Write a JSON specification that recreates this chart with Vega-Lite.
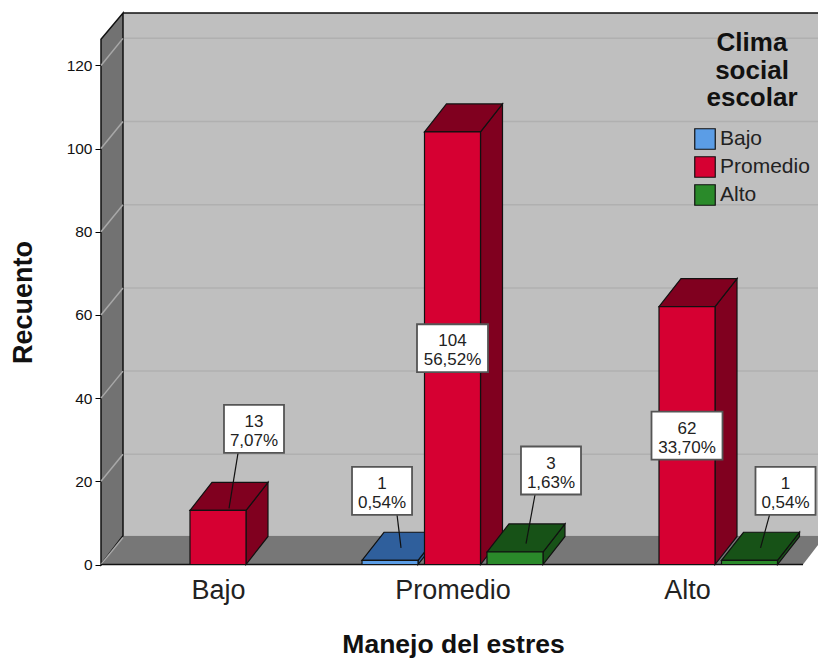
{
"$schema":"https://vega.github.io/schema/vega-lite/v6.json",
"width":717,"height":551.5,
"autosize":{"type":"none"},
"padding":{"left":101,"top":13,"right":0,"bottom":94},
"background":"white",
"config":{"view":{"stroke":null},"font":"Liberation Sans","axis":{"grid":false}},
"data":{"values":[
{"manejo":"Bajo","clima":"Promedio","recuento":13,"porcentaje":"7,07%"},
{"manejo":"Promedio","clima":"Bajo","recuento":1,"porcentaje":"0,54%"},
{"manejo":"Promedio","clima":"Promedio","recuento":104,"porcentaje":"56,52%"},
{"manejo":"Promedio","clima":"Alto","recuento":3,"porcentaje":"1,63%"},
{"manejo":"Alto","clima":"Promedio","recuento":62,"porcentaje":"33,70%"},
{"manejo":"Alto","clima":"Alto","recuento":1,"porcentaje":"0,54%"}
]},
"transform":[
{"calculate":"indexof(['Bajo','Promedio','Alto'],datum.manejo)+(indexof(['Bajo','Promedio','Alto'],datum.clima)-1)*0.2665","as":"xc"},
{"calculate":"datum.xc-0.1194","as":"x0"},
{"calculate":"datum.xc+0.1194","as":"x1"},
{"calculate":"datum.manejo+'-'+datum.clima","as":"barra"},
{"calculate":"datum.recuento>=50?datum.xc:(datum.clima=='Bajo'?datum.xc-0.034:datum.xc+0.1535)","as":"bx"},
{"calculate":"datum.recuento>=50?datum.recuento/2:datum.recuento+(datum.recuento<2?16.7:19.6)","as":"by"},
{"calculate":"datum.recuento>=50?0.1514:0.128","as":"bw"}
],
"layer":[
{"data":{"values":[{"pared":"fondo"}]},
 "mark":{"type":"rect","fill":"#bfbfbf"},
 "encoding":{
  "x":{"datum":-0.4051,"type":"quantitative","scale":{"domain":[-0.4989,2.5586],"nice":false,"zero":false},
   "axis":{"values":[0,1,2],"labelExpr":"['Bajo','Promedio','Alto'][datum.value]","ticks":false,"domain":false,"labelFontSize":27,"labelFont":"Liberation Sans","labelColor":"#222","labelPadding":13,"title":"Manejo del estres","titleFontSize":26.5,"titleFontWeight":"bold","titleColor":"#111","titleX":352,"titleY":80,"titleBaseline":"middle"}},
  "x2":{"datum":2.5586},
  "y":{"datum":6.9,"type":"quantitative","scale":{"domain":[0,132.6],"nice":false,"zero":false},
   "axis":{"values":[0,20,40,60,80,100,120],"domain":false,"tickColor":"#000","tickSize":6,"labelFontSize":15.5,"labelColor":"#111","labelPadding":3,"title":"Recuento","titleFontSize":27,"titleFontWeight":"bold","titleColor":"#111","titleX":-78,"titleY":289,"titleBaseline":"middle","titleAlign":"center"}},
  "y2":{"datum":132.6}
 }},
{"data":{"values":[{"t":20},{"t":40},{"t":60},{"t":80},{"t":100},{"t":120}]},
 "transform":[{"calculate":"datum.t+6.5","as":"ty"}],
 "mark":{"type":"rule","stroke":"#b0b0b0","strokeWidth":1.5},
 "encoding":{"x":{"datum":-0.4051},"x2":{"datum":2.5586},"y":{"field":"ty","type":"quantitative"}}},
{"data":{"values":[{"pared":"suelo"}]},
 "transform":[
  {"calculate":"[-0.4989,-0.4051,2.4947,2.5586]","as":"px"},
  {"calculate":"[0,6.9,6.9,6.9]","as":"pt"},
  {"calculate":"[0,0,0,4.7]","as":"pb"},
  {"flatten":["px","pt","pb"]}],
 "mark":{"type":"area","fill":"#777777"},
 "encoding":{"x":{"field":"px","type":"quantitative"},"y":{"field":"pt","type":"quantitative","stack":null},"y2":{"field":"pb"}}},
{"data":{"values":[{"pared":"izquierda"}]},
 "transform":[
  {"calculate":"[-0.4989,-0.4051]","as":"px"},
  {"calculate":"[126.3,132.6]","as":"pt"},
  {"calculate":"[0,6.9]","as":"pb"},
  {"flatten":["px","pt","pb"]}],
 "mark":{"type":"area","fill":"#727272","stroke":"#111","strokeWidth":1.5},
 "encoding":{"x":{"field":"px","type":"quantitative"},"y":{"field":"pt","type":"quantitative","stack":null},"y2":{"field":"pb"}}},
{"data":{"values":[{"t":0},{"t":20},{"t":40},{"t":60},{"t":80},{"t":100},{"t":120}]},
 "transform":[{"calculate":"datum.t+6.5","as":"ty"}],
 "mark":{"type":"rule","stroke":"#a8a8a8","strokeWidth":1.5},
 "encoding":{"x":{"datum":-0.4989},"x2":{"datum":-0.4051},"y":{"field":"t","type":"quantitative"},"y2":{"field":"ty"}}},
{"data":{"values":[{"borde":"frente"}]},
 "mark":{"type":"rule","stroke":"#111","strokeWidth":1.5},
 "encoding":{"x":{"datum":-0.4989},"x2":{"datum":2.4947},"y":{"datum":0}}},
{"data":{"values":[{"borde":"arriba"}]},
 "mark":{"type":"rule","stroke":"#111","strokeWidth":1.5},
 "encoding":{"x":{"datum":-0.4051},"x2":{"datum":2.5586},"y":{"datum":132.6}}},
{"transform":[
  {"calculate":"[datum.x1,datum.x1+0.0938]","as":"px"},
  {"calculate":"[datum.recuento,datum.recuento+6.75]","as":"pt"},
  {"calculate":"[0,6.75]","as":"pb"},
  {"flatten":["px","pt","pb"]}],
 "mark":{"type":"area","stroke":"#111","strokeWidth":1.2},
 "encoding":{"x":{"field":"px","type":"quantitative"},"y":{"field":"pt","type":"quantitative","stack":null},"y2":{"field":"pb"},"detail":{"field":"barra"},
  "color":{"field":"clima","type":"nominal","legend":null,"scale":{"domain":["Bajo","Promedio","Alto"],"range":["#2f5f9c","#80001f","#175217"]}}}},
{"transform":[
  {"calculate":"[datum.x0,datum.x0+0.0938,datum.x1,datum.x1+0.0938]","as":"px"},
  {"calculate":"[datum.recuento,datum.recuento+6.75,datum.recuento+6.75,datum.recuento+6.75]","as":"pt"},
  {"calculate":"[datum.recuento,datum.recuento,datum.recuento,datum.recuento+6.75]","as":"pb"},
  {"flatten":["px","pt","pb"]}],
 "mark":{"type":"area","stroke":"#111","strokeWidth":1.2},
 "encoding":{"x":{"field":"px","type":"quantitative"},"y":{"field":"pt","type":"quantitative","stack":null},"y2":{"field":"pb"},"detail":{"field":"barra"},
  "color":{"field":"clima","type":"nominal","legend":null,"scale":{"domain":["Bajo","Promedio","Alto"],"range":["#2f5f9c","#80001f","#175217"]}}}},
{"mark":{"type":"rect","stroke":"#111","strokeWidth":1.2},
 "encoding":{"x":{"field":"x0","type":"quantitative"},"x2":{"field":"x1"},"y":{"field":"recuento","type":"quantitative"},"y2":{"datum":0},
  "color":{"field":"clima","type":"nominal","scale":{"domain":["Bajo","Promedio","Alto"],"range":["#5b9de6","#d60032","#2a8a2a"]},
   "legend":{"orient":"none","legendX":593,"legendY":17,"title":["Clima","social","escolar"],"titleFontSize":26,"titleFontWeight":"bold","titleColor":"#111","titleLineHeight":27.5,"titleAlign":"center","titleAnchor":"middle","titlePadding":17,"titleLimit":200,"labelFontSize":21,"labelColor":"#222","labelLimit":200,"symbolType":"square","symbolSize":420,"symbolStrokeColor":"#111","symbolStrokeWidth":1.2,"symbolOpacity":1,"rowPadding":2,"labelOffset":4,"values":["Bajo","Promedio","Alto"]}}}},
{"transform":[{"filter":"datum.recuento<50"},
  {"calculate":"datum.bx+(datum.clima=='Bajo'?0.064:-0.068)","as":"lx"},
  {"calculate":"datum.by-5.77","as":"ly"},
  {"calculate":"datum.xc+0.047","as":"tx"},
  {"calculate":"datum.recuento+(datum.recuento<2?3:(datum.recuento<5?2:0.5))","as":"ty"}],
 "mark":{"type":"rule","stroke":"#111","strokeWidth":1.2},
 "encoding":{"x":{"field":"lx","type":"quantitative"},"x2":{"field":"tx"},"y":{"field":"ly","type":"quantitative"},"y2":{"field":"ty"}}},
{"transform":[
  {"calculate":"datum.bx-datum.bw","as":"l"},
  {"calculate":"datum.bx+datum.bw","as":"r"},
  {"calculate":"datum.by-5.77","as":"b"},
  {"calculate":"datum.by+5.77","as":"t"}],
 "mark":{"type":"rect","fill":"white","stroke":"#555","strokeWidth":1.8},
 "encoding":{"x":{"field":"l","type":"quantitative"},"x2":{"field":"r"},"y":{"field":"b","type":"quantitative"},"y2":{"field":"t"}}},
{"transform":[{"calculate":"datum.recuento+'\\n'+datum.porcentaje","as":"etiqueta"}],
 "mark":{"type":"text","lineBreak":"\n","lineHeight":19,"fontSize":17,"dy":-7,"color":"#222","baseline":"middle","align":"center"},
 "encoding":{"x":{"field":"bx","type":"quantitative"},"y":{"field":"by","type":"quantitative"},"text":{"field":"etiqueta"}}}
],
"resolve":{"scale":{"color":"independent"}}
}
